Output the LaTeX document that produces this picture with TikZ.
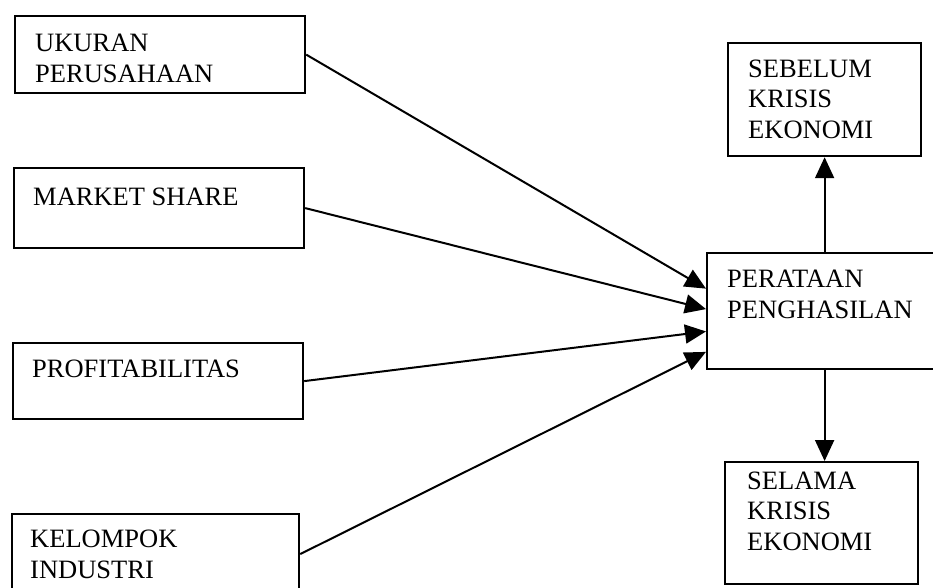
\documentclass[tikz,border=0pt]{standalone}
\usepackage{fontspec}
\setmainfont{Liberation Serif}
\usetikzlibrary{arrows.meta,calc}
\begin{document}
\begin{tikzpicture}[x=1pt,y=-1pt,
  box/.style={draw=black,line width=2.2pt,inner sep=0pt,anchor=north west,fill=white},
  lbl/.style={inner sep=0pt,anchor=base west,align=left,font=\fontsize{26.5}{30.5}\selectfont},
  conn/.style={line width=2pt,-{Triangle[length=21pt,width=19pt]}}]
\useasboundingbox (0,0) rectangle (933,587);
\clip (0,0) rectangle (933,587);
\fill[white] (0,0) rectangle (933,587);
% boxes
\node[box,minimum width=290pt,minimum height=77pt] (uk) at (14,15) {};
\node[box,minimum width=290pt,minimum height=80pt] (ms) at (13,167) {};
\node[box,minimum width=290pt,minimum height=76pt] (pf) at (12,342) {};
\node[box,minimum width=287pt,minimum height=80pt] (ko) at (11,513) {};
\node[box,minimum width=193pt,minimum height=113pt] (sb) at (727,42) {};
\node[box,minimum width=235pt,minimum height=116pt] (pe) at (706,252) {};
\node[box,minimum width=193pt,minimum height=122pt] (sl) at (724,461) {};
% labels (anchor = baseline of last line)
\node[lbl] (tuk) at (35,82) {UKURAN\\PERUSAHAAN};
\node[lbl] (tms) at (33,205) {MARKET SHARE};
\node[lbl] (tpf) at (32,377) {PROFITABILITAS};
\node[lbl] (tko) at (30,578) {KELOMPOK\\INDUSTRI};
\node[lbl] (tsb) at (748,138) {SEBELUM\\KRISIS\\EKONOMI};
\node[lbl] (tpe) at (727,318) {PERATAAN\\PENGHASILAN};
\node[lbl] (tsl) at (747,550) {SELAMA\\KRISIS\\EKONOMI};
% connectors
\draw[conn] (uk.east) -- ($(pe.north west)!0.31!(pe.south west)$);
\draw[conn] (ms.east) -- ($(pe.north west)!0.483!(pe.south west)$);
\draw[conn] (pf.east) -- ($(pe.north west)!0.672!(pe.south west)$);
\draw[conn] (ko.east) -- ($(pe.north west)!0.845!(pe.south west)$);
\draw[conn] (pe.north) -- (pe.north |- sb.south);
\draw[conn] (pe.south) -- (pe.south |- sl.north);
\end{tikzpicture}
\end{document}
